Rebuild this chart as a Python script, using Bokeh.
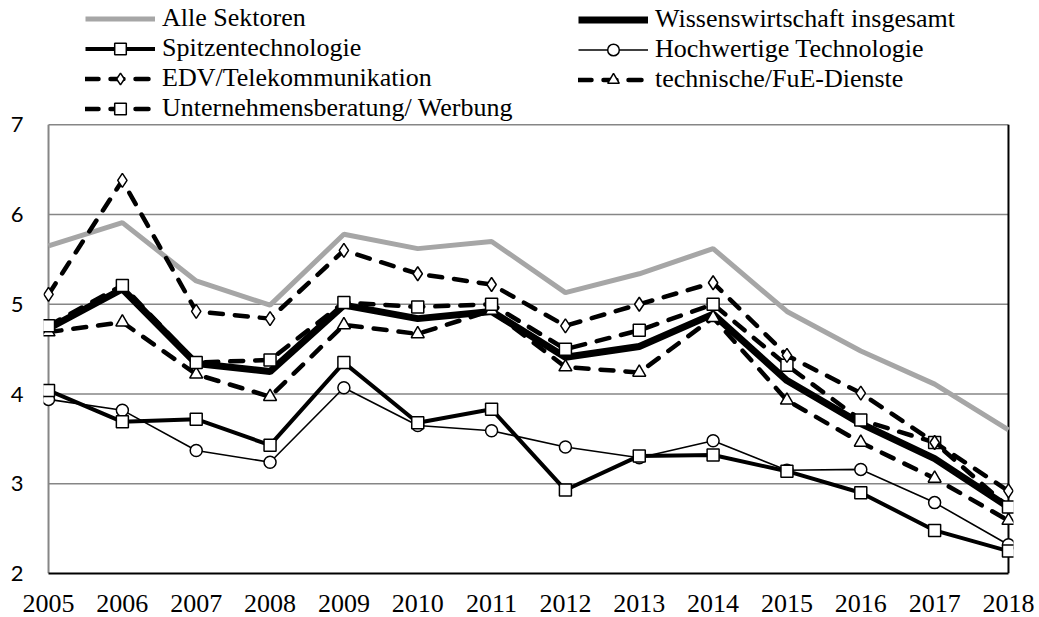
from bokeh.plotting import figure
from bokeh.models import Legend, LegendItem, FixedTicker, Range1d
from bokeh.embed import file_html
from bokeh.resources import INLINE

years = list(range(2005, 2019))
alle = [5.65, 5.91, 5.26, 4.99, 5.78, 5.62, 5.70, 5.13, 5.34, 5.62, 4.92, 4.48, 4.11, 3.60]
wiss = [4.73, 5.17, 4.34, 4.25, 4.99, 4.84, 4.92, 4.41, 4.53, 4.89, 4.15, 3.67, 3.28, 2.74]
spitzen = [4.04, 3.69, 3.72, 3.43, 4.35, 3.68, 3.83, 2.93, 3.31, 3.32, 3.14, 2.90, 2.48, 2.25]
hochw = [3.94, 3.82, 3.37, 3.24, 4.07, 3.65, 3.59, 3.41, 3.29, 3.48, 3.15, 3.16, 2.79, 2.32]
edv = [5.11, 6.38, 4.92, 4.84, 5.60, 5.34, 5.22, 4.76, 5.00, 5.24, 4.43, 4.01, 3.46, 2.92]
tech = [4.69, 4.80, 4.22, 3.97, 4.77, 4.67, 4.93, 4.30, 4.24, 4.85, 3.93, 3.46, 3.06, 2.59]
unb = [4.76, 5.21, 4.35, 4.38, 5.02, 4.97, 5.00, 4.50, 4.71, 5.00, 4.32, 3.71, 3.46, 2.74]
y_ticks = [2, 3, 4, 5, 6, 7]
grid_vals = [3, 4, 5, 6, 7]

labels = {
    "alle": "Alle Sektoren",
    "wiss": "Wissenswirtschaft insgesamt",
    "spitzen": "Spitzentechnologie",
    "hochw": "Hochwertige Technologie",
    "edv": "EDV/Telekommunikation",
    "tech": "technische/FuE-Dienste",
    "unb": "Unternehmensberatung/ Werbung",
}

SERIF = "Liberation Serif"
GRID = "#868686"

# frame covers the legend area too (top of the figure), so the legends are not clipped
p = figure(frame_width=970, frame_height=573,
           x_range=Range1d(2004.932, 2018.068), y_range=Range1d(2, 8.385),
           output_backend="svg", toolbar_location=None,
           min_border_left=43, min_border_right=26, min_border_top=0, min_border_bottom=44)
p.outline_line_color = None
p.xgrid.visible = False
p.ygrid.visible = False
p.background_fill_color = "white"
p.border_fill_color = "white"

# horizontal gridlines from first to last year
p.segment(x0=years[0], x1=years[-1], y0=grid_vals, y1=grid_vals, line_color=GRID, line_width=1.6)
# left (value) axis line and right border line
p.segment(x0=[years[0]], x1=[years[0]], y0=[y_ticks[0]], y1=[y_ticks[-1]], line_color=GRID, line_width=2)
p.segment(x0=[years[-1]], x1=[years[-1]], y0=[y_ticks[0]], y1=[y_ticks[-1]], line_color="black", line_width=2)

# axes
xa = p.xaxis[0]
xa.ticker = FixedTicker(ticks=years)
xa.bounds = (years[0], years[-1])
xa.axis_line_color = "black"
xa.axis_line_width = 2
xa.major_tick_out = 0
xa.major_tick_in = 0
xa.minor_tick_out = 0
xa.minor_tick_in = 0
xa.major_label_text_font = SERIF
xa.major_label_text_font_size = "26px"
xa.major_label_text_color = "black"
xa.major_label_standoff = 21

ya = p.yaxis[0]
ya.ticker = FixedTicker(ticks=y_ticks)
ya.axis_line_color = None
ya.major_tick_out = 0
ya.major_tick_in = 0
ya.minor_tick_out = 0
ya.minor_tick_in = 0
ya.major_label_text_font = "Lato"
ya.major_label_text_font_size = "22px"
ya.major_label_text_color = "black"
ya.major_label_standoff = 20

DASH = "13 12"
r = {}
r["alle"] = [p.line(years, alle, line_color="#A6A6A6", line_width=5)]
r["hochw"] = [p.line(years, hochw, line_color="black", line_width=1.6),
              p.scatter(years, hochw, marker="circle", size=12, fill_color="white",
                        line_color="black", line_width=1.5)]
r["spitzen"] = [p.line(years, spitzen, line_color="black", line_width=4),
                p.scatter(years, spitzen, marker="square", size=12, fill_color="white",
                          line_color="black", line_width=1.5)]
r["wiss"] = [p.line(years, wiss, line_color="black", line_width=7)]
r["tech"] = [p.line(years, tech, line_color="black", line_width=4.5, line_dash=DASH, line_cap="round"),
             p.scatter(years, tech, marker="triangle", size=13, fill_color="white",
                       line_color="black", line_width=1.5)]
r["unb"] = [p.line(years, unb, line_color="black", line_width=4.5, line_dash=DASH, line_cap="round"),
            p.scatter(years, unb, marker="square", size=12, fill_color="white",
                      line_color="black", line_width=1.5)]
r["edv"] = [p.line(years, edv, line_color="black", line_width=4.5, line_dash=DASH, line_cap="round"),
            p.scatter(years, edv, marker="diamond", size=14, fill_color="white",
                      line_color="black", line_width=1.5)]


def make_legend(keys, loc):
    leg = Legend(items=[LegendItem(label=labels[k], renderers=r[k]) for k in keys],
                 location=loc, orientation="vertical")
    leg.label_text_font = SERIF
    leg.label_text_font_size = "26px"
    leg.label_text_color = "black"
    leg.glyph_width = 70
    leg.glyph_height = 29
    leg.label_height = 29
    leg.label_standoff = 7
    leg.spacing = 0
    leg.padding = 0
    leg.margin = 0
    leg.border_line_color = None
    leg.background_fill_alpha = 0
    return leg


p.add_layout(make_legend(["alle", "spitzen", "edv", "unb"], (42, 450)))
p.add_layout(make_legend(["wiss", "hochw", "tech"], (535, 479)))

open("out.html", "w").write(file_html(p, INLINE))
